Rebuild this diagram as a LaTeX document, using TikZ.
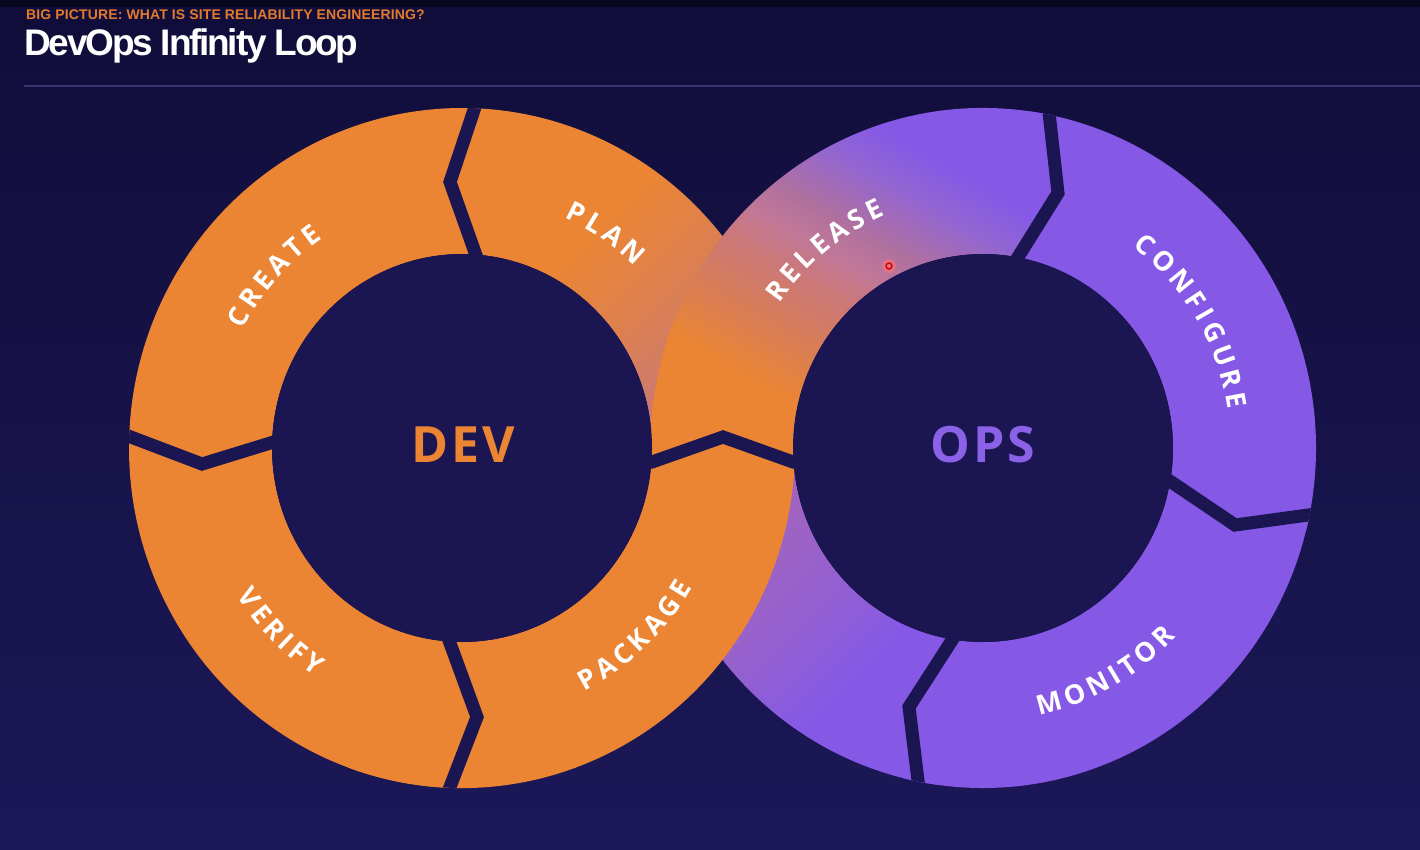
\documentclass[tikz,border=0pt]{standalone}
\usepackage{fontspec}
\setmainfont{Liberation Sans}
\newfontfamily\titlefont{Liberation Sans}[LetterSpace=-6]
\newfontfamily\kickerfont{Liberation Sans}[LetterSpace=1]
\newfontfamily\ringfont{Open Sans}
\newfontfamily\hubfont{Open Sans}[LetterSpace=6]
\usetikzlibrary{calc,decorations.text,shadings}

\definecolor{bgtop}{HTML}{110D3A}
\definecolor{bgbot}{HTML}{1C1858}
\definecolor{topband}{HTML}{08061C}
\definecolor{hole}{HTML}{1B1652}
\definecolor{orng}{HTML}{EB8533}
\definecolor{purp}{HTML}{8559E6}
\definecolor{kicker}{HTML}{E27A2C}
\definecolor{rulecol}{HTML}{38366E}

% colour runs for the segments that change colour
\definecolor{planA}{HTML}{DD8050}
\definecolor{planB}{HTML}{CC7A72}
\definecolor{planC}{HTML}{BE748E}
\pgfdeclarehorizontalshading{planshade}{100bp}{color(0bp)=(orng); color(38bp)=(orng); color(50bp)=(planA); color(60bp)=(planB); color(70bp)=(planC); color(100bp)=(planC)}
\definecolor{relA}{HTML}{D57C5C}
\definecolor{relB}{HTML}{CC7878}
\definecolor{relC}{HTML}{C07898}
\definecolor{relD}{HTML}{B0709E}
\definecolor{relE}{HTML}{9466D0}
\pgfdeclarehorizontalshading{releaseshade}{100bp}{color(0bp)=(orng); color(39bp)=(orng); color(46.5bp)=(relA); color(51.5bp)=(relB); color(55.5bp)=(relC); color(59bp)=(relD); color(65bp)=(relE); color(70bp)=(purp); color(100bp)=(purp)}
\definecolor{retA}{HTML}{A866B8}
\definecolor{retB}{HTML}{A064C0}
\definecolor{retC}{HTML}{9460D0}
\pgfdeclarehorizontalshading{returnshade}{100bp}{color(0bp)=(retA); color(43bp)=(retB); color(55bp)=(retC); color(66bp)=(purp); color(100bp)=(purp)}

% annular sector of a ring centred at #1, from angle #2 to angle #3
\newcommand{\ringpath}[3]{($(#1)+(#2:333 and 340)$) arc[start angle=#2, end angle=#3, x radius=333, y radius=340] -- ($(#1)+(#3:190 and 194)$) arc[start angle=#3, end angle=#2, x radius=190, y radius=194] -- cycle}

% label on the upper half of a ring (letter tops outward)
\newcommand{\uplabel}[3]{\path[decorate, decoration={text along path, text align=center, text color=white, text={|\ringfont\bfseries\fontsize{27}{32}\selectfont|#3}}] ($(#1)+(#2+40:248 and 253)$) arc[start angle=#2+40, end angle=#2-40, x radius=248, y radius=253];}
% label on the lower half of a ring (letter tops inward)
\newcommand{\downlabel}[3]{\path[decorate, decoration={text along path, text align=center, text color=white, text={|\ringfont\bfseries\fontsize{27}{32}\selectfont|#3}}] ($(#1)+(#2-40:268 and 273)$) arc[start angle=#2-40, end angle=#2+40, x radius=268, y radius=273];}

\begin{document}
\begin{tikzpicture}[x=1pt, y=1pt,
  gap/.style={draw=hole, line width=13, line join=miter},
  hub/.style={font=\hubfont\bfseries\fontsize{50}{56}\selectfont, inner sep=0}]

% background
\useasboundingbox (0,0) rectangle (1420,-849);
\fill[top color=bgtop, bottom color=bgbot] (0,0) rectangle (1420,-849);
\fill[topband] (0,0) rectangle (1420,-7);

% heading
\node[anchor=base west, inner sep=0, text=kicker, font=\kickerfont\bfseries\fontsize{14}{16}\selectfont] (kick) at (26,-19) {BIG PICTURE: WHAT IS SITE RELIABILITY ENGINEERING?};
\node[anchor=base west, inner sep=0, text=white, font=\titlefont\bfseries\fontsize{37}{44}\selectfont] (title) at (24,-55) {DevOps Infinity Loop};
\coordinate (ruleA) at (24,-86);
\coordinate (ruleB) at (1420,-86);
\draw[rulecol, line width=2] (ruleA) -- (ruleB);

% ring centres
\coordinate (L) at (462,-448);
\coordinate (R) at (983,-448);

% segments that pass underneath at the crossing
\shade[shading=planshade, shading angle=-45] \ringpath{L}{-15}{92};
\shade[shading=returnshade, shading angle=-45] \ringpath{R}{165}{262};

% plain segments
\fill[orng] \ringpath{L}{88}{180};
\fill[orng] \ringpath{L}{178}{270};
\fill[purp] \ringpath{R}{-14}{82};
\fill[purp] \ringpath{R}{256}{348};

% RELEASE, above the central chevron
\begin{scope}
  \clip (550,-462) -- (652,-462) -- (723,-437) -- (793,-462) -- (1100,-462) -- (1100,0) -- (550,0) -- cycle;
  \shade[shading=releaseshade, shading angle=60] \ringpath{R}{78}{200};
\end{scope}
% PACKAGE, below the central chevron
\begin{scope}
  \clip (300,-462) -- (652,-462) -- (723,-437) -- (793,-462) -- (900,-462) -- (900,-849) -- (300,-849) -- cycle;
  \fill[orng] \ringpath{L}{250}{380};
\end{scope}

% chevron gaps between segments
\begin{scope}
  \clip (L) ellipse [x radius=333, y radius=340];
  \draw[gap] (481,-89) -- (450,-182) -- (483,-275);
  \draw[gap] (115,-431) -- (202,-464) -- (290,-437);
  \draw[gap] (443,-624) -- (477,-717) -- (443,-805);
\end{scope}
\begin{scope}
  \clip (R) ellipse [x radius=333, y radius=340];
  \draw[gap] (1047,-95) -- (1058,-193) -- (1005,-278);
  \draw[gap] (1155,-471) -- (1235,-525) -- (1330,-512);
  \draw[gap] (965,-620) -- (909,-707) -- (921,-805);
\end{scope}
\draw[gap] (630,-462) -- (652,-462) -- (723,-437) -- (793,-462) -- (815,-462);

% ring holes
\fill[hole] (L) ellipse [x radius=190, y radius=194];
\fill[hole] (R) ellipse [x radius=190, y radius=194];

% hub titles
\node[hub, text=orng] (dev) at (463,-445) {DEV};
\node[hub, text=purp!95!white] (ops) at (983,-445) {OPS};

% stage labels, letter-spaced by hand
\uplabel{L}{138}{C{\kern4.5pt}R{\kern4.5pt}E{\kern4.5pt}A{\kern4.5pt}T{\kern4.5pt}E}
\uplabel{L}{56}{P{\kern4.5pt}L{\kern4.5pt}A{\kern4.5pt}N}
\downlabel{L}{225}{V{\kern4.5pt}E{\kern4.5pt}R{\kern4.5pt}I{\kern4.5pt}F{\kern4.5pt}Y}
\downlabel{L}{-47}{P{\kern4.5pt}A{\kern4.5pt}C{\kern4.5pt}K{\kern4.5pt}A{\kern4.5pt}G{\kern4.5pt}E}
\uplabel{R}{129}{R{\kern4.5pt}E{\kern4.5pt}L{\kern4.5pt}E{\kern4.5pt}A{\kern4.5pt}S{\kern4.5pt}E}
\uplabel{R}{31}{C{\kern4.5pt}O{\kern4.5pt}N{\kern4.5pt}F{\kern4.5pt}I{\kern4.5pt}G{\kern4.5pt}U{\kern4.5pt}R{\kern4.5pt}E}
\downlabel{R}{-61}{M{\kern4.5pt}O{\kern4.5pt}N{\kern4.5pt}I{\kern4.5pt}T{\kern4.5pt}O{\kern4.5pt}R}

% pointer mark
\coordinate (ptr) at (889,-266);
\fill[red!40!pink, opacity=0.55] (ptr) circle (7);
\draw[red!85!black, line width=1.4] (ptr) circle (3);
\end{tikzpicture}
\end{document}
